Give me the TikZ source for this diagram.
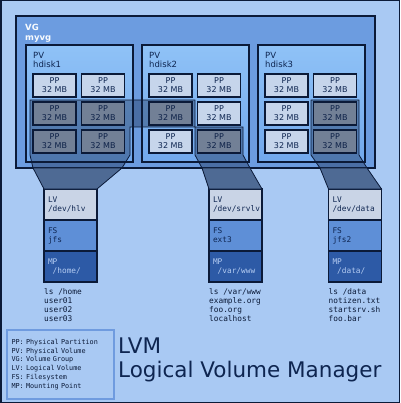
\documentclass[tikz,border=0pt]{standalone}
\usepackage{fontspec}
\setmainfont{DejaVu Sans}
\setmonofont{DejaVu Sans Mono}
\usetikzlibrary{positioning}

\definecolor{bgblue}{HTML}{A9C9F3}
\definecolor{navy}{HTML}{0B1A38}
\definecolor{vgblue}{HTML}{6C9CE0}
\definecolor{pvtop}{HTML}{8FC2F7}
\definecolor{pvbot}{HTML}{72A8EC}
\definecolor{ppfree}{HTML}{C6D5EB}
\definecolor{ppused}{HTML}{AAB7C9}
\definecolor{lvgray}{HTML}{C9D4E6}
\definecolor{fsblue}{HTML}{5E8FD7}
\definecolor{mpblue}{HTML}{2D5AA6}
\definecolor{funnel}{HTML}{4E6A94}
\definecolor{keyline}{HTML}{6F9BDF}
\definecolor{inktext}{HTML}{0E2550}
\definecolor{mptext}{HTML}{B4CCF2}

\begin{document}
\begin{tikzpicture}[x=1pt, y=-1pt,
    vgbox/.style={draw=navy, line width=2pt, fill=vgblue, anchor=north west, minimum width=359pt, minimum height=152pt, inner sep=0pt, outer sep=0pt},
    pvbox/.style={draw=navy, line width=2pt, top color=pvtop, bottom color=pvbot, anchor=north west, minimum width=107pt, minimum height=117pt, inner sep=0pt, outer sep=0pt},
    pvlabel/.style={anchor=north west, align=left, inner sep=0pt, text=inktext, font=\fontsize{8.5}{9.5}\selectfont},
    pp/.style={draw=navy, line width=1.2pt, fill=ppfree, minimum width=43pt, minimum height=23pt, inner sep=0pt, align=center, text=inktext, font=\fontsize{8}{9}\selectfont},
    used/.style={fill=ppused},
    lvshade/.style={draw=navy, line width=0.8pt, fill=navy, fill opacity=0.35},
    funnelpart/.style={draw=navy, line width=0.8pt, fill=funnel},
    lvpart/.style={draw=navy, line width=1.2pt, minimum width=53pt, minimum height=31pt, text width=45pt, inner xsep=4pt, inner ysep=0pt, outer sep=0pt, align=left, font=\ttfamily\fontsize{7.8}{9}\selectfont},
    lvsec/.style={lvpart, fill=lvgray, text=inktext},
    fssec/.style={lvpart, fill=fsblue, text=inktext},
    mpsec/.style={lvpart, fill=mpblue, text=mptext},
    listing/.style={anchor=north west, align=left, inner sep=0pt, text=navy, font=\ttfamily\fontsize{7.8}{9}\selectfont},
    keybox/.style={draw=keyline, line width=2.5pt, minimum width=107pt, minimum height=69pt, text width=98pt, inner xsep=4.5pt, align=left, text=navy, font=\ttfamily\fontsize{6.8}{8.9}\selectfont},
    title/.style={anchor=base west, inner sep=0pt, text=inktext, font=\fontsize{21.5}{24}\selectfont}
  ]
  \useasboundingbox (0,0) rectangle (400,403);
  \draw[navy, line width=1.5pt, fill=bgblue] (0.75,0.75) rectangle (399.25,402.25);

  \node[vgbox] (vg) at (16,16) {};
  \node[anchor=north west, align=left, inner sep=0pt, text=white!92!bgblue, font=\bfseries\fontsize{8.5}{10}\selectfont] (vgname) at (25,24) {VG\\myvg};

  \foreach \i/\x in {1/26,2/142,3/258} {
    \node[pvbox] (pv\i) at (\x,45) {};
    \node[pvlabel] (pvname\i) at ([shift={(7,7)}]pv\i.north west) {PV\\hdisk\i};
  }

  % free partitions
  \foreach \name/\x/\y in {a11/54.5/85.5, a12/103/85.5, b11/170.5/85.5, b12/219/85.5, b22/219/113.5, b31/170.5/141.5, c11/286.5/85.5, c12/335/85.5, c21/286.5/113.5, c31/286.5/141.5}
    \node[pp] (\name) at (\x,\y) {PP\\32 MB};
  % partitions in a logical volume
  \foreach \name/\x/\y in {a21/54.5/113.5, a22/103/113.5, a31/54.5/141.5, a32/103/141.5, b21/170.5/113.5, b32/219/141.5, c22/335/113.5, c32/335/141.5}
    \node[pp, used] (\name) at (\x,\y) {PP\\32 MB};

  \draw[lvshade] (30,100) -- (195,100) -- (195,127) -- (130,127) -- (130,155) -- (122,168) -- (33,168) -- (30,155) -- cycle;
  \draw[lvshade] (195,127) -- (243,127) -- (243,155) -- (250,168) -- (202,168) -- (195,155) -- cycle;
  \draw[lvshade] (311,100) -- (359,100) -- (359,155) -- (367,168) -- (320,168) -- (311,155) -- cycle;

  \node[lvsec] (lv1) at (70.5,204.5) {LV\\/dev/hlv};
  \node[fssec, below=0pt of lv1] (fs1) {FS\\jfs};
  \node[mpsec, below=0pt of fs1] (mp1) {MP\\\hphantom{x}/home/};
  \node[lvsec] (lv2) at (235.5,204.5) {LV\\/dev/srvlv};
  \node[fssec, below=0pt of lv2] (fs2) {FS\\ext3};
  \node[mpsec, below=0pt of fs2] (mp2) {MP\\\hphantom{x}/var/www};
  \node[lvsec] (lv3) at (355,204.5) {LV\\/dev/data};
  \node[fssec, below=0pt of lv3] (fs3) {FS\\jfs2};
  \node[mpsec, below=0pt of fs3] (mp3) {MP\\\hphantom{x}/data/};

  \draw[funnelpart] (33,168) -- (122,168) -- (lv1.north east) -- (lv1.north west) -- cycle;
  \draw[funnelpart] (202,168) -- (250,168) -- (lv2.north east) -- (lv2.north west) -- cycle;
  \draw[funnelpart] (320,168) -- (367,168) -- (lv3.north east) -- (lv3.north west) -- cycle;

  \node[listing] (ls1) at ([yshift=-6pt]mp1.south west) {ls /home\\user01\\user02\\user03};
  \node[listing] (ls2) at ([yshift=-6pt]mp2.south west) {ls /var/www\\example.org\\foo.org\\localhost};
  \node[listing] (ls3) at ([yshift=-6pt]mp3.south west) {ls /data\\notizen.txt\\startsrv.sh\\foo.bar};

  \node[keybox] (key) at (60.5,364.5) {PP: Physical Partition\\PV: Physical Volume\\VG: Volume Group\\LV: Logical Volume\\FS: Filesystem\\MP: Mounting Point};

  \node[title] (lvm) at (118,353) {LVM};
  \node[title] (lvmname) at (118,377) {Logical Volume Manager};
\end{tikzpicture}
\end{document}
